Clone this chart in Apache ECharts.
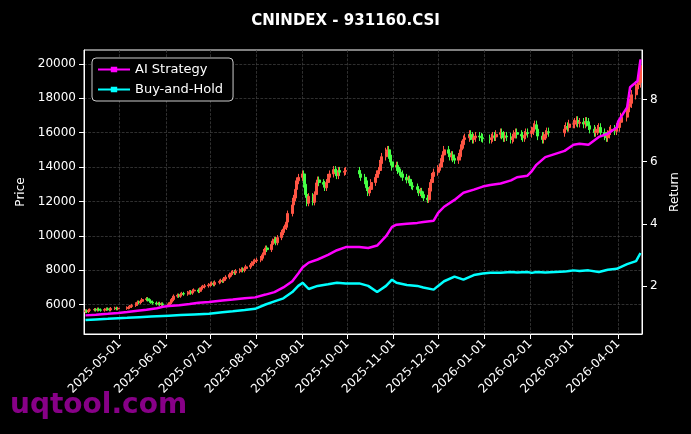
<!DOCTYPE html>
<html><head><meta charset="utf-8">
<script src="https://cdn.jsdelivr.net/npm/echarts@6/dist/echarts.min.js"></script>
<style>html,body{margin:0;padding:0;background:#000}#c{width:691px;height:434px}</style>
</head><body><div id="c"></div>
<script>
// Trading-day calendar
const startDate = '2025-04-08', endDate = '2026-04-16';
const holidays = ['2025-05-01','2025-05-02','2025-05-05','2025-06-02','2025-10-01','2025-10-02','2025-10-03','2025-10-06','2025-10-07','2025-10-08','2026-01-01','2026-01-02','2026-02-16','2026-02-17','2026-02-18','2026-02-19','2026-02-20','2026-02-23','2026-04-06'];
const priceTicks = [6000,8000,10000,12000,14000,16000,18000,20000];
const returnTicks = [2,4,6,8];
// Closing prices per month (one per trading day)
const closes = {
 '2025-04':[5650,5600,5680,5700,5720,5690,5750,5700,5680,5720,5760,5740,5700,5780,5800,5760,5790],
 '2025-05':[5820,5850,5900,5960,6050,6150,6120,6200,6300,6350,6280,6220,6150,6100,6050,6080,6020,6050,6000],
 '2025-06':[6050,6150,6300,6500,6550,6500,6600,6650,6620,6700,6750,6680,6800,6850,6780,6900,7000,7050,7100,7150],
 '2025-07':[7200,7250,7180,7300,7350,7400,7380,7500,7600,7750,7850,7900,7850,7950,8000,8050,8000,8100,8200,8300,8400,8500,8550],
 '2025-08':[8600,8700,8900,9100,9300,9200,9500,9700,9800,9600,9900,10200,10400,10500,10800,11300,11800,12200,12700,13200,13400],
 '2025-09':[13600,13000,12400,11900,12300,11950,12400,12900,13250,13100,13000,12800,13100,13400,13600,13850,13700,13500,13800,13700,13750,13800],
 '2025-10':[13600,13400,13200,12800,12500,12700,13100,13400,13600,13800,14200,14600,14900,15000,14700,14300,14000],
 '2025-11':[14100,13800,13700,13600,13400,13250,13300,13100,12900,12850,12700,12500,12600,12400,12200,12100,12600,13100,13450,13700],
 '2025-12':[13900,14000,14300,14700,15000,14800,14600,14700,14500,14400,14600,15000,15300,15600,15700,15900,15800,15600,15700,15800,15750,15700,15650],
 '2026-01':[15600,15700,15800,15750,15900,16000,15850,15700,15800,15750,15600,15700,15900,16000,15900,15800,15700,15850,16000,15950],
 '2026-02':[16100,16300,16450,16200,15800,15600,15800,15900,16050,16000,16200,16350,16300,16500],
 '2026-03':[16500,16600,16700,16550,16600,16500,16650,16600,16400,16200,16000,16100,16200,16300,16000,15800,15700,15900,16100,16200,16100,16300],
 '2026-04':[16300,16600,16900,17200,17500,17700,18200,18700,18800,18900,19900]
};
// Weekly-ish returns per month
const strategy = {
 '2025-04':[1.05,1.07,1.10,1.13],'2025-05':[1.16,1.2,1.23,1.28,1.33],'2025-06':[1.35,1.38,1.42,1.46,1.48],
 '2025-07':[1.5,1.53,1.56,1.6,1.63],'2025-08':[1.68,1.72,1.8,1.95,2.15,2.4],'2025-09':[2.6,2.75,2.85,3.0,3.15,3.25],
 '2025-10':[3.25,3.22,3.3,3.6,3.9],'2025-11':[3.97,4.0,4.03,4.06,4.1],'2025-12':[4.35,4.55,4.77,5.0,5.1,5.2],
 '2026-01':[5.25,5.3,5.4,5.5,5.55],'2026-02':[5.7,5.9,6.15,6.35,6.45],'2026-03':[6.55,6.58,6.55,6.8,6.9,7.1],
 '2026-04':[7.3,7.75,8.4,8.6,9.3]
};
const buyHold = {
 '2025-04':[0.9,0.92,0.94,0.96],'2025-05':[0.97,0.99,1.01,1.03],'2025-06':[1.04,1.06,1.08,1.1],
 '2025-07':[1.12,1.15,1.18,1.22,1.26],'2025-08':[1.3,1.4,1.5,1.6,1.8,2.0],'2025-09':[2.1,1.9,2.0,2.05,2.1,2.08],
 '2025-10':[2.08,2.0,1.8,2.0,2.2],'2025-11':[2.1,2.03,2.0,1.95,1.88],'2025-12':[2.0,2.15,2.3,2.2,2.35,2.4],
 '2026-01':[2.42,2.42,2.45,2.43,2.45],'2026-02':[2.42,2.45,2.43,2.46,2.48],'2026-03':[2.5,2.48,2.5,2.45,2.52,2.55],
 '2026-04':[2.6,2.7,2.8,3.06]
};

function fmt(d){return d.toISOString().slice(0,10);}
const days = {};
for(let d=new Date(startDate+'T00:00:00Z'); fmt(d)<=endDate; d.setUTCDate(d.getUTCDate()+1)){
  const w=d.getUTCDay(); const s=fmt(d);
  if(w===0||w===6||holidays.includes(s)) continue;
  const m=s.slice(0,7); (days[m]=days[m]||[]).push(s);
}
const candles=[], sLine=[], bLine=[];
let prev=null;
Object.keys(closes).forEach(m=>{
  const ds=days[m]||[]; const cs=closes[m];
  for(let i=0;i<Math.min(ds.length,cs.length);i++){
    const c=cs[i]; const o=prev==null?c*0.99:prev;
    const hi=Math.max(o,c)*1.015, lo=Math.min(o,c)*0.985;
    candles.push([ds[i],o,c,lo,hi]); prev=c;
  }
  [[strategy,sLine],[buyHold,bLine]].forEach(([src,dst])=>{
    const v=src[m]; if(!v) return;
    for(let i=0;i<v.length;i++){
      const idx=Math.min(ds.length-1,Math.round(i*(ds.length-1)/Math.max(1,v.length-1)));
      dst.push([ds[idx],v[i]]);
    }
  });
});
function pad(n){return (n<10?'0':'')+n;}
const chart=echarts.init(document.getElementById('c'),null,{renderer:'canvas'});
const txt='#ffffff', font='DejaVu Sans';
const DAY=86400000;
const icon='path://M0,3L12,3L12,1.5L18,1.5L18,3L30,3L30,5L18,5L18,6.5L12,6.5L12,5L0,5Z';
chart.setOption({
  backgroundColor:'#000',
  animation:false,
  textStyle:{fontFamily:font},
  title:{text:'CNINDEX - 931160.CSI',left:'center',top:9,textStyle:{color:txt,fontSize:15,fontWeight:'bold',fontFamily:font}},
  grid:{left:84,right:49,top:50,bottom:100,show:true,borderColor:'#ffffff',borderWidth:1,backgroundColor:'#000'},
  legend:{left:92,top:58,orient:'vertical',itemGap:7,backgroundColor:'#000',borderColor:'#cccccc',borderWidth:1,borderRadius:4,padding:[5,10,5,6],
    textStyle:{color:txt,fontSize:13,fontFamily:font},itemWidth:32,itemHeight:8,
    data:[{name:'AI Strategy',icon:icon},{name:'Buy-and-Hold',icon:icon}]},
  xAxis:{type:'time',min:'2025-04-07',max:'2026-04-17',minInterval:28*DAY,maxInterval:31*DAY,
    axisLine:{lineStyle:{color:'#fff'}},axisTick:{lineStyle:{color:'#fff'}},
    axisLabel:{color:txt,fontSize:12,rotate:45,fontFamily:font,hideOverlap:false,
      formatter:function(v){const d=new Date(v);return d.getFullYear()+'-'+pad(d.getMonth()+1)+'-'+pad(d.getDate());}},
    splitLine:{show:true,lineStyle:{color:'#444',type:'dashed',width:0.7}}},
  yAxis:[
    {type:'value',min:4300,max:20800,name:'Price',nameLocation:'middle',nameGap:55,nameTextStyle:{color:txt,fontSize:12},
      axisLine:{show:true,lineStyle:{color:'#fff'}},axisTick:{show:true,customValues:priceTicks},
      axisLabel:{customValues:priceTicks,color:txt,fontSize:12,formatter:v=>String(v)},
      splitLine:{show:true,lineStyle:{color:'#444',type:'dashed',width:0.7}}},
    {type:'value',min:0.45,max:9.6,name:'Return',nameLocation:'middle',nameGap:26,nameTextStyle:{color:txt,fontSize:12},
      axisLine:{show:true,lineStyle:{color:'#fff'}},axisTick:{show:true,customValues:returnTicks},
      axisLabel:{customValues:returnTicks,color:txt,fontSize:12,formatter:v=>String(v)},splitLine:{show:false}}
  ],
  series:[
    {type:'candlestick',name:'Price',data:candles,barWidth:2.5,
      itemStyle:{color:'#ff5544',color0:'#44ff44',borderColor:'#ff5544',borderColor0:'#44ff44',borderWidth:1}},
    {type:'line',name:'AI Strategy',yAxisIndex:1,data:sLine,showSymbol:false,lineStyle:{color:'#ff00ff',width:2.5},itemStyle:{color:'#ff00ff'}},
    {type:'line',name:'Buy-and-Hold',yAxisIndex:1,data:bLine,showSymbol:false,lineStyle:{color:'#00ffff',width:2.5},itemStyle:{color:'#00ffff'}}
  ],
  graphic:[{type:'text',left:10,top:392,style:{text:'uqtool.com',fill:'rgba(150,0,150,0.9)',fontSize:28,fontWeight:'bold',fontFamily:font}}]
});
</script></body></html>
